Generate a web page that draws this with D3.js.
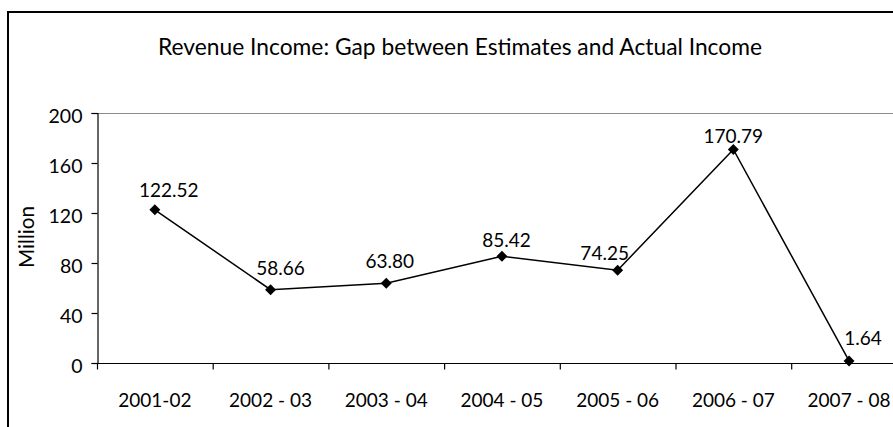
<!DOCTYPE html>
<html>
<head>
<meta charset="utf-8">
<script src="https://cdn.jsdelivr.net/npm/d3@7/dist/d3.min.js"></script>
<style>
  html, body { margin: 0; padding: 0; background: #fff; }
  svg { display: block; }
  text { font-family: Lato, "Open Sans", sans-serif; fill: #000; }
</style>
</head>
<body>
<svg id="chart" width="893" height="427"></svg>
<script>
// Revenue income gap (million) per financial year
const years = ["2001-02", "2002 - 03", "2003 - 04", "2004 - 05", "2005 - 06", "2006 - 07", "2007 - 08"];
const gapValues = [122.52, 58.66, 63.80, 85.42, 74.25, 170.79, 1.64];
const yTicks = [0, 40, 80, 120, 160, 200];
const titleText = "Revenue Income: Gap between Estimates and Actual Income";
const yAxisTitle = "Million";

const svg = d3.select("#chart");
const W = 893, H = 427;
const FS = 19;

// chart frame, running past the right and bottom edges
svg.append("rect")
  .attr("x", 8).attr("y", 12)
  .attr("width", W + 20).attr("height", H + 20)
  .attr("fill", "#fff").attr("stroke", "#000").attr("stroke-width", 2);

const plot = { left: 97, top: 113, bottom: 363, bandW: 115.7 };

const x = d3.scaleBand()
  .domain(years)
  .range([plot.left, plot.left + plot.bandW * years.length])
  .paddingInner(0).paddingOuter(0);

const y = d3.scaleLinear().domain([0, 200]).range([plot.bottom, plot.top]);

// title
svg.append("text")
  .attr("x", 460).attr("y", 55)
  .attr("text-anchor", "middle")
  .attr("font-size", 24)
  .attr("textLength", 604)
  .attr("lengthAdjust", "spacingAndGlyphs")
  .text(titleText);

// top border of the plot area
svg.append("line")
  .attr("x1", plot.left).attr("x2", W + 10)
  .attr("y1", y(200) + 0.5).attr("y2", y(200) + 0.5)
  .attr("stroke", "#8c8c8c").attr("stroke-width", 1.2);

// y axis
const yAxis = d3.axisLeft(y).tickValues(yTicks).tickSize(6).tickPadding(8).tickFormat(d3.format("d"));
const gy = svg.append("g")
  .attr("transform", `translate(${plot.left + 0.5},0)`)
  .call(yAxis);
gy.select(".domain").attr("stroke", "#000").attr("stroke-width", 1.2);
gy.selectAll(".tick line").attr("stroke", "#000").attr("stroke-width", 1.2);
gy.selectAll(".tick text")
  .attr("font-family", "Lato, sans-serif")
  .attr("font-size", FS + 0.5)
  .attr("fill", "#000")
  .attr("dy", null)
  .attr("x", -15)
  .attr("y", 9.5);

// x axis: ticks sit between categories
const gx = svg.append("g")
  .attr("transform", `translate(0,${plot.bottom + 0.5})`);
gx.append("line")
  .attr("x1", plot.left).attr("x2", W + 10)
  .attr("stroke", "#000").attr("stroke-width", 1.2);
const bounds = d3.range(years.length + 1).map(i => x.range()[0] + i * x.step());
gx.selectAll("line.tk").data(bounds).join("line")
  .attr("class", "tk")
  .attr("x1", d => d + 0.5).attr("x2", d => d + 0.5)
  .attr("y1", 0).attr("y2", 6)
  .attr("stroke", "#000").attr("stroke-width", 1.2);
gx.selectAll("text").data(years).join("text")
  .attr("x", d => x(d) + x.bandwidth() / 2)
  .attr("y", 406 - plot.bottom)
  .attr("text-anchor", "middle")
  .attr("font-size", FS)
  .text(d => d);

// y axis title
svg.append("text")
  .attr("transform", `translate(34,237) rotate(-90)`)
  .attr("text-anchor", "middle")
  .attr("font-size", 21)
  .attr("textLength", 62)
  .attr("lengthAdjust", "spacingAndGlyphs")
  .text(yAxisTitle);

// series
const pts = years.map((d, i) => ({ year: d, v: gapValues[i], cx: x(d) + x.bandwidth() / 2 }));

svg.append("path")
  .datum(pts)
  .attr("fill", "none")
  .attr("stroke", "#000")
  .attr("stroke-width", 1.5)
  .attr("d", d3.line().x(d => d.cx).y(d => y(d.v)));

svg.selectAll("path.marker").data(pts).join("path")
  .attr("class", "marker")
  .attr("transform", d => `translate(${d.cx},${y(d.v)}) rotate(45)`)
  .attr("d", d3.symbol(d3.symbolSquare, 60)())
  .attr("fill", "#000");

// value labels, nudged sideways where the line would cross them
const labelShift = [14, 10, 3.5, 4.5, -13, 0, 14];
const labelLift = [13, 14.5, 15, 9, 10, 6.5, 16];
svg.selectAll("text.vlabel").data(pts).join("text")
  .attr("class", "vlabel")
  .attr("x", (d, i) => d.cx + labelShift[i])
  .attr("y", (d, i) => y(d.v) - labelLift[i])
  .attr("text-anchor", "middle")
  .attr("font-size", FS)
  .text(d => d.v.toFixed(2));
</script>
</body>
</html>
